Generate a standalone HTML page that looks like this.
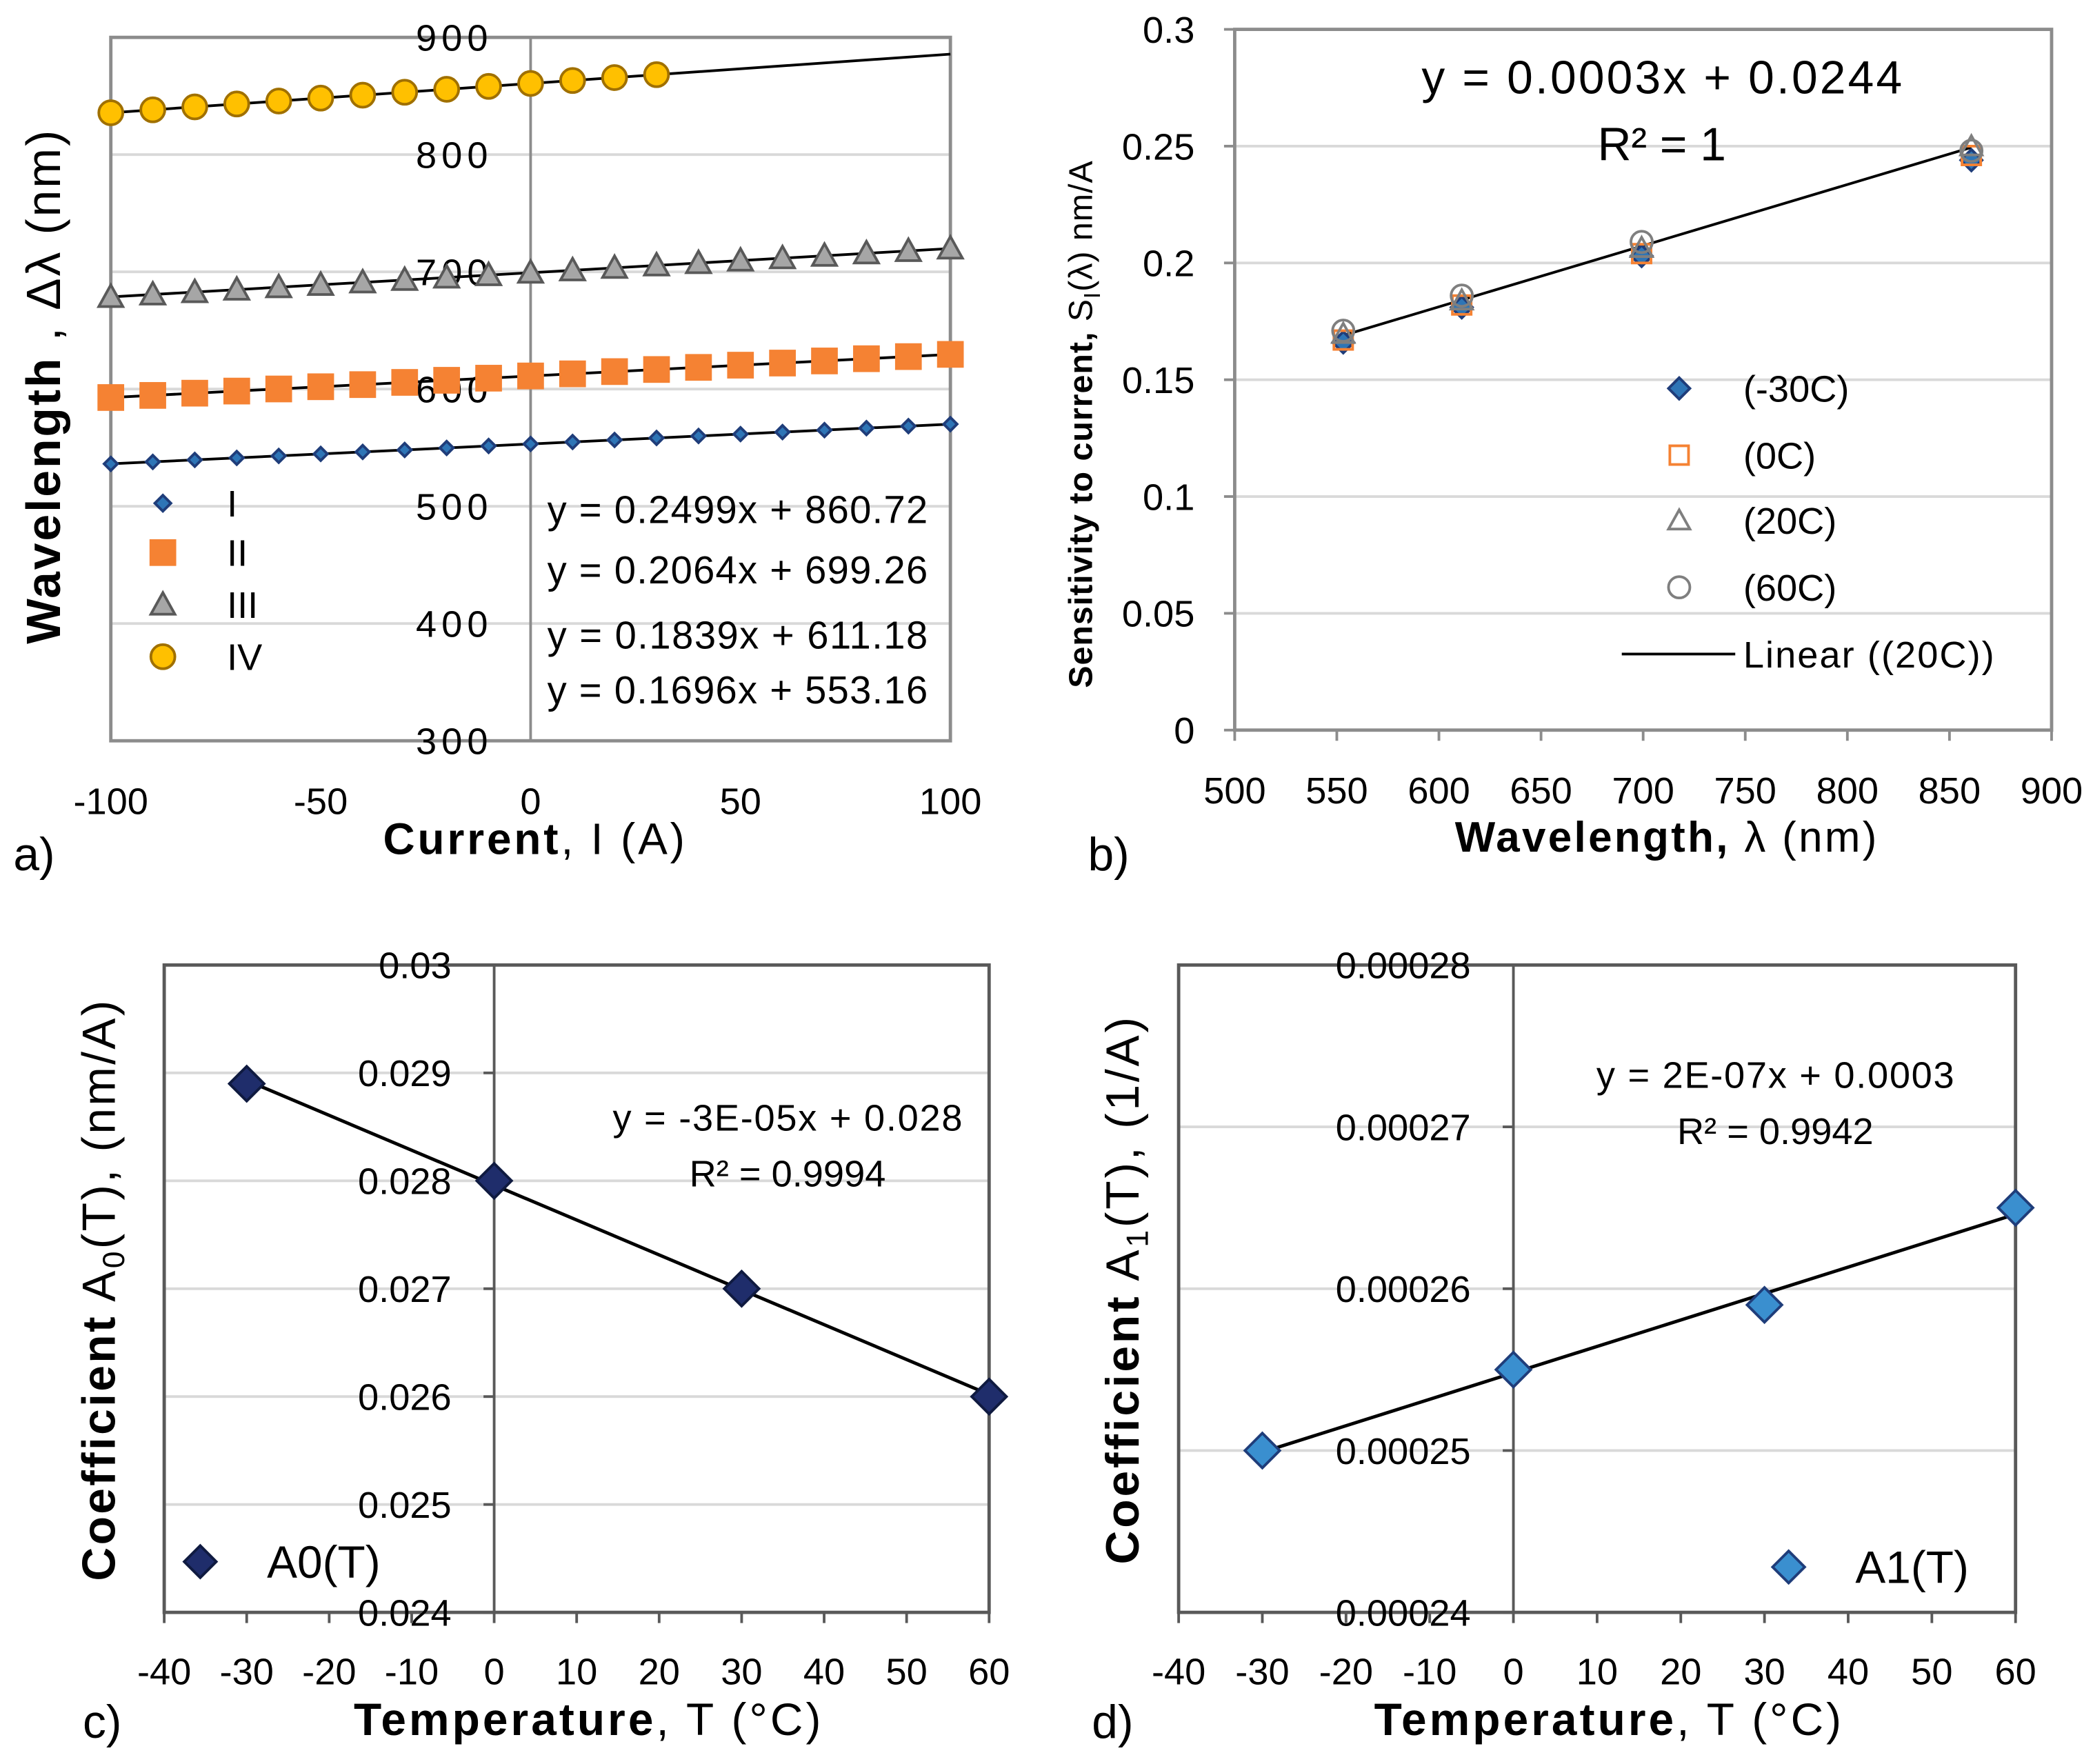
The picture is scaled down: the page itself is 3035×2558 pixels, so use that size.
<!DOCTYPE html>
<html><head><meta charset="utf-8"><style>
html,body{margin:0;padding:0;background:#fff}
svg{display:block}
text{font-family:"Liberation Sans",sans-serif}
</style></head><body>
<svg id="fig" xmlns="http://www.w3.org/2000/svg" width="3035" height="2558" viewBox="0 0 1568 1321.6">
<rect width="1568" height="1321.6" fill="#fff"/>
</svg>
<script>
// ---- Panel a data ----
const aX = [-100,-90,-80,-70,-60,-50,-40,-30,-20,-10,0,10,20,30,40,50,60,70,80,90,100];
const aI = [536.2,537.9,539.6,541.3,543.0,544.7,546.4,548.1,549.8,551.5,553.2,554.9,556.6,558.3,560.0,561.6,563.3,565.0,566.7,568.4,570.1];
const aII = [592.8,594.6,596.5,598.3,600.1,602.0,603.8,605.7,607.5,609.3,611.2,613.0,614.9,616.7,618.5,620.4,622.2,624.0,625.9,627.7,629.6];
const aIII = [678.6,680.7,682.7,684.8,686.9,688.9,691.0,693.1,695.1,697.2,699.3,701.3,703.4,705.5,707.5,709.6,711.6,713.7,715.8,717.8,719.9];
const aXIV = [-100,-90,-80,-70,-60,-50,-40,-30,-20,-10,0,10,20,30];
const aIV = [835.7,838.2,840.7,843.2,845.7,848.2,850.7,853.2,855.7,858.2,860.7,863.2,865.7,868.2];
const aXTicks = [-100,-50,0,50,100];
const aYTicks = [300,400,500,600,700,800,900];
const aEquations = ["y = 0.2499x + 860.72","y = 0.2064x + 699.26","y = 0.1839x + 611.18","y = 0.1696x + 553.16"];
// ---- Panel b data ----
const bWl = [553.16,611.18,699.26,860.72];
const bM30 = [0.166,0.181,0.203,0.244];
const b0 = [0.167,0.182,0.204,0.246];
const b20 = [0.1696,0.1839,0.2064,0.2499];
const b60 = [0.171,0.186,0.209,0.248];
const bXTicks = [500,550,600,650,700,750,800,850,900];
const bYTicks = [0,0.05,0.1,0.15,0.2,0.25,0.3];
// ---- Panel c data ----
const cT = [-30,0,30,60];
const cA0 = [0.0289,0.0280,0.0270,0.0260];
const cXTicks = [-40,-30,-20,-10,0,10,20,30,40,50,60];
const cYTicks = [0.024,0.025,0.026,0.027,0.028,0.029,0.03];
// ---- Panel d data ----
const dT = [-30,0,30,60];
const dA1 = [0.000250,0.000255,0.000259,0.000265];
const dXTicks = [-40,-30,-20,-10,0,10,20,30,40,50,60];
const dYTicks = [0.00024,0.00025,0.00026,0.00027,0.00028];

const NS="http://www.w3.org/2000/svg";
const svg=document.getElementById('fig');
function el(tag,attrs,parent,txt){const e=document.createElementNS(NS,tag);for(const k in attrs)e.setAttribute(k,attrs[k]);if(txt!==undefined)e.textContent=txt;(parent||svg).appendChild(e);return e;}
function lin(d0,d1,r0,r1){return v=>r0+(v-d0)*(r1-r0)/(d1-d0);}
function fit(xs,ys){const n=xs.length;let sx=0,sy=0,sxx=0,sxy=0;for(let i=0;i<n;i++){sx+=xs[i];sy+=ys[i];sxx+=xs[i]*xs[i];sxy+=xs[i]*ys[i];}const m=(n*sxy-sx*sy)/(n*sxx-sx*sx);return [m,(sy-m*sx)/n];}
function marker(g,type,x,y,s,fill,stroke){
  let e;
  if(type==='diamond'){e=el('polygon',{points:`${x},${y-s} ${x+s},${y} ${x},${y+s} ${x-s},${y}`,fill,stroke,'stroke-width':2},g);}
  else if(type==='square'){e=el('rect',{x:x-s,y:y-s,width:2*s,height:2*s,fill,stroke,'stroke-width':2},g);}
  else if(type==='triangle'){e=el('polygon',{points:`${x},${y-s} ${x+s},${y+s*0.8} ${x-s},${y+s*0.8}`,fill,stroke,'stroke-width':2},g);}
  else {e=el('circle',{cx:x,cy:y,r:s,fill,stroke,'stroke-width':2},g);}
  
  
  return e;
}
function fmt(v){return String(+v.toFixed(6));}

// ===== Panel a =====
(function(){
  const g=el('g',{});
  
  
  const L=83,R=712,T=28,B=555;
  const sx=lin(-100,100,L,R), sy=lin(300,900,B,T);
  aYTicks.forEach(v=>{ if(v>300&&v<900){const l=el('line',{x1:L,x2:R,y1:sy(v),y2:sy(v),stroke:'#d9d9d9','stroke-width':2},g);}});
  el('rect',{x:L,y:T,width:R-L,height:B-T,fill:'none',stroke:'#8c8c8c','stroke-width':2.5},g);
  el('line',{x1:sx(0),x2:sx(0),y1:T,y2:B,stroke:'#8c8c8c','stroke-width':2},g);
  aYTicks.forEach(v=>{const t=el('text',{x:sx(0)-32,y:sy(v)+10,'text-anchor':'end','font-size':28,'textLength':54},g,String(v));});
  aXTicks.forEach(v=>{const t=el('text',{x:sx(v),y:610,'text-anchor':'middle','font-size':28},g,String(v));});
  const series=[[aX,aI,'diamond',5,'#2e75b6','#1f3d7a'],[aX,aII,'square',9,'#f58233','#f58233'],[aX,aIII,'triangle',9,'#a6a6a6','#595959'],[aXIV,aIV,'circle',9,'#ffc000','#a07000']];
  series.forEach(([xs,ys])=>{const [m,b]=fit(xs,ys);const l=el('line',{x1:sx(-100),y1:sy(m*-100+b),x2:sx(100),y2:sy(m*100+b),stroke:'#000','stroke-width':2},g);});
  series.forEach(([xs,ys,ty,s,f,st])=>{xs.forEach((x,i)=>marker(g,ty,sx(x),sy(ys[i]),s,f,st));});
  const names=['I','II','III','IV'];const ly=[377,414,453,492];
  series.forEach((s,i)=>{marker(g,s[2],122,ly[i],i==0?6:9,s[4],s[5]);const t=el('text',{x:170,y:ly[i]+10,'font-size':28},g,names[i]);});
  const ey=[392,437,486,527];
  aEquations.forEach((e,i)=>{const t=el('text',{x:410,y:ey[i],'font-size':29,'textLength':285},g,e);});
  const xt=el('text',{x:400,y:640,'text-anchor':'middle','font-size':33,'textLength':226},g);
  el('tspan',{'font-weight':'bold'},xt,'Current');el('tspan',{},xt,', I (A)');
  const yt=el('text',{transform:'translate(45,290) rotate(-90)','text-anchor':'middle','font-size':36,'textLength':385},g);
  el('tspan',{'font-weight':'bold'},yt,'Wavelength');el('tspan',{},yt,' , Δλ (nm)');
  const p=el('text',{x:10,y:652,'font-size':35},g,'a)');
})();

// ===== Panel b =====
(function(){
  const g=el('g',{});
  
  
  const L=925,R=1537,T=22,B=547;
  const sx=lin(500,900,L,R), sy=lin(0,0.3,B,T);
  bYTicks.forEach(v=>{if(v>0){const l=el('line',{x1:L,x2:R,y1:sy(v),y2:sy(v),stroke:'#d9d9d9','stroke-width':2},g);}});
  el('rect',{x:L,y:T,width:R-L,height:B-T,fill:'none',stroke:'#8c8c8c','stroke-width':2.5},g);
  bYTicks.forEach(v=>{el('line',{x1:L-8,x2:L,y1:sy(v),y2:sy(v),stroke:'#8c8c8c','stroke-width':2},g);const t=el('text',{x:L-30,y:sy(v)+10,'text-anchor':'end','font-size':28},g,fmt(v));});
  bXTicks.forEach(v=>{el('line',{x1:sx(v),x2:sx(v),y1:B,y2:B+8,stroke:'#8c8c8c','stroke-width':2},g);const t=el('text',{x:sx(v),y:602,'text-anchor':'middle','font-size':28},g,String(v));});
  const [m,b]=fit(bWl,b20);
  const tl=el('line',{x1:sx(bWl[0]),y1:sy(m*bWl[0]+b),x2:sx(bWl[3]),y2:sy(m*bWl[3]+b),stroke:'#000','stroke-width':2},g);
  const ser=[[bM30,'diamond',8,'#2e75b6','#1f3d7a'],[b0,'square',7,'none','#f58233'],[b20,'triangle',8,'none','#7f7f7f'],[b60,'circle',8,'none','#7f7f7f']];
  ser.forEach(([ys,ty,s,f,st])=>bWl.forEach((x,i)=>marker(g,ty,sx(x),sy(ys[i]),s,f,st)));
  const names=['(-30C)','(0C)','(20C)','(60C)'];const ly=[291,341,390,440];
  ser.forEach((s,i)=>{marker(g,s[1],1258,ly[i],s[2],s[3],s[4]);const t=el('text',{x:1306,y:ly[i]+10,'font-size':28},g,names[i]);});
  el('line',{x1:1215,x2:1300,y1:490,y2:490,stroke:'#000','stroke-width':2},g);
  const lt=el('text',{x:1306,y:500,'font-size':28,'textLength':188},g,'Linear ((20C))');
  const e1=el('text',{x:1245,y:70,'text-anchor':'middle','font-size':35,'textLength':360},g,'y = 0.0003x + 0.0244');
  const e2=el('text',{x:1245,y:120,'text-anchor':'middle','font-size':35},g,'R² = 1');
  const xt=el('text',{x:1248,y:638,'text-anchor':'middle','font-size':32,'textLength':316},g);
  el('tspan',{'font-weight':'bold'},xt,'Wavelength,');el('tspan',{},xt,' λ (nm)');
  const yt=el('text',{transform:'translate(818,318) rotate(-90)','text-anchor':'middle','font-size':25,'textLength':395},g);
  el('tspan',{'font-weight':'bold'},yt,'Sensitivity to current,');el('tspan',{},yt,' S');el('tspan',{'font-size':17,dy:6},yt,'I');el('tspan',{dy:-6},yt,'(λ) nm/A');
  const p=el('text',{x:815,y:652,'font-size':35},g,'b)');
})();

// ===== Panels c & d =====
function tempPanel(o){
  const g=el('g',{});
  
  
  const {L,R,T,B}=o;
  const sx=lin(-40,60,L,R), sy=lin(o.yt[0],o.yt[o.yt.length-1],B,T);
  o.yt.forEach(v=>{const l=el('line',{x1:L,x2:R,y1:sy(v),y2:sy(v),stroke:'#d9d9d9','stroke-width':2},g);});
  el('rect',{x:L,y:T,width:R-L,height:B-T,fill:'none',stroke:'#595959','stroke-width':2.5},g);
  el('line',{x1:sx(0),x2:sx(0),y1:T,y2:B,stroke:'#595959','stroke-width':2},g);
  o.yt.forEach(v=>{el('line',{x1:sx(0)-8,x2:sx(0),y1:sy(v),y2:sy(v),stroke:'#595959','stroke-width':2},g);const t=el('text',{x:sx(0)-32,y:sy(v)+10,'text-anchor':'end','font-size':28},g,fmt(v));});
  o.xt.forEach(v=>{el('line',{x1:sx(v),x2:sx(v),y1:B,y2:B+8,stroke:'#595959','stroke-width':2},g);const t=el('text',{x:sx(v),y:1262,'text-anchor':'middle','font-size':28},g,String(v));});
  const [m,b]=fit(o.xs,o.ys);
  const tl=el('line',{x1:sx(o.xs[0]),y1:sy(m*o.xs[0]+b),x2:sx(o.xs[o.xs.length-1]),y2:sy(m*o.xs[o.xs.length-1]+b),stroke:'#000','stroke-width':2.5},g);
  o.xs.forEach((x,i)=>marker(g,'diamond',sx(x),sy(o.ys[i]),13,o.fill,o.stroke));
  marker(g,'diamond',o.lx,o.ly,12,o.fill,o.stroke);
  const lt=el('text',{x:o.lx+50,y:o.ly+12,'font-size':34},g,o.label);
  const e1=el('text',{x:o.ex,y:o.ey,'text-anchor':'middle','font-size':28,'textLength':o.eqw},g,o.eq);
  const e2=el('text',{x:o.ex,y:o.ey+42,'text-anchor':'middle','font-size':28},g,o.r2);
  const xt=el('text',{x:(L+R)/2+8,y:1300,'text-anchor':'middle','font-size':34,'textLength':350},g);
  el('tspan',{'font-weight':'bold'},xt,'Temperature');el('tspan',{},xt,', T (°C)');
  const yt=el('text',{transform:`translate(${o.ytx},967) rotate(-90)`,'text-anchor':'middle','font-size':35,'textLength':o.ytw},g);
  el('tspan',{'font-weight':'bold'},yt,'Coefficient');el('tspan',{},yt,' A');el('tspan',{'font-size':23,dy:7},yt,o.sub);el('tspan',{dy:-7},yt,o.ytail);
  const p=el('text',{x:o.px,y:1302,'font-size':35},g,o.pl);
}
tempPanel({name:'panel-c',L:123,R:741,T:723,B:1208,xs:cT,ys:cA0,xt:cXTicks,yt:cYTicks,fill:'#1f2d6b',stroke:'#0f1a40',lx:150,ly:1170,label:'A0(T)',ex:590,ey:847,eq:'y = -3E-05x + 0.028',eqw:262,r2:'R² = 0.9994',ytx:86,ytw:435,sub:'0',ytail:'(T), (nm/A)',px:62,pl:'c)'});
tempPanel({name:'panel-d',L:883,R:1510,T:723,B:1208,xs:dT,ys:dA1,xt:dXTicks,yt:dYTicks,fill:'#3a8fcf',stroke:'#1f3d7a',lx:1340,ly:1174,label:'A1(T)',ex:1330,ey:815,eq:'y = 2E-07x + 0.0003',eqw:268,r2:'R² = 0.9942',ytx:853,ytw:410,sub:'1',ytail:'(T), (1/A)',px:818,pl:'d)'});
</script>
</body></html>
